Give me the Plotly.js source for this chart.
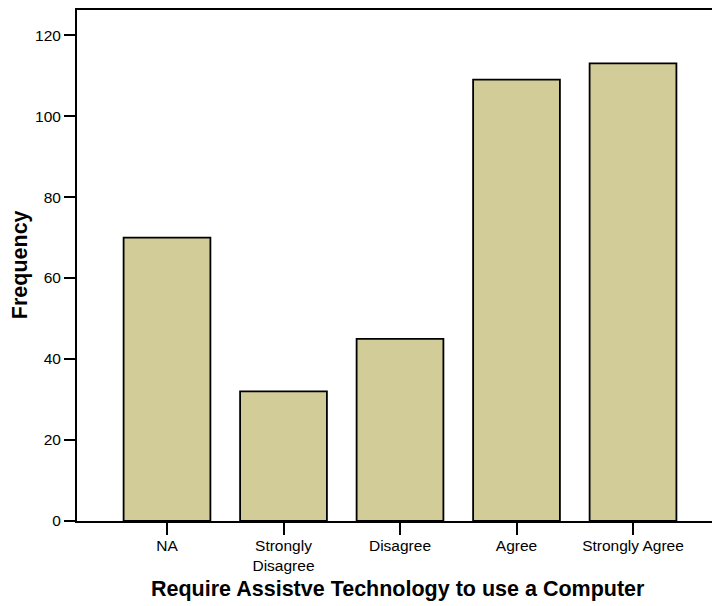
<!DOCTYPE html>
<html>
<head>
<meta charset="utf-8">
<script src="https://cdn.plot.ly/plotly-3.0.1.min.js"></script>
<style>html,body{margin:0;padding:0;background:#fff;}#chart{width:712px;height:606px;}</style>
</head>
<body>
<div id="chart"></div>
<script>
const categories = ["NA", "Strongly<br>Disagree", "Disagree", "Agree", "Strongly Agree"];
const frequencies = [70, 32, 45, 109, 113];
const yTicks = [0, 20, 40, 60, 80, 100, 120];
const xTitle = "Require Assistve Technology to use a Computer";
const yTitle = "Frequency";

const font = "Arial, 'Liberation Sans', sans-serif";

const trace = {
  type: "bar",
  x: categories.map((c, i) => i),
  y: frequencies,
  width: 0.745,
  marker: { color: "#d2cd98", line: { color: "#000", width: 1.8 } },
  hoverinfo: "skip"
};

const layout = {
  width: 712, height: 606,
  margin: { l: 77, r: 0, t: 10, b: 85.3 },
  paper_bgcolor: "#fff", plot_bgcolor: "#fff",
  showlegend: false,
  font: { family: font, color: "#000" },
  xaxis: {
    range: [-0.7725, 4.678],
    tickmode: "array",
    tickvals: categories.map((c, i) => i),
    ticktext: categories,
    showgrid: false, zeroline: false,
    showline: true, linecolor: "#000", linewidth: 2, mirror: true,
    ticks: "outside", ticklen: 12, tickwidth: 2, tickcolor: "#000",
    ticklabelstandoff: -3,
    tickfont: { family: font, size: 15.5, color: "#000" },
    fixedrange: true
  },
  yaxis: {
    range: [0, 126.2],
    tickmode: "array",
    tickvals: yTicks,
    ticktext: yTicks.map(String),
    showgrid: false, zeroline: false,
    showline: true, linecolor: "#000", linewidth: 2,
    ticks: "outside", ticklen: 11, tickwidth: 2, tickcolor: "#000",
    tickfont: { family: font, size: 15.5, color: "#000" },
    fixedrange: true
  },
  annotations: [
    {
      text: "<b>" + xTitle + "</b>",
      xref: "paper", yref: "paper",
      x: 0.5055, y: -0.1337, xanchor: "center", yanchor: "middle",
      showarrow: false,
      font: { family: font, size: 21.5, color: "#000" }
    },
    {
      text: "<b>" + yTitle + "</b>",
      xref: "paper", yref: "paper",
      x: -0.0898, y: 0.5026, xanchor: "center", yanchor: "middle",
      textangle: -90,
      showarrow: false,
      font: { family: font, size: 21.5, color: "#000" }
    }
  ]
};

Plotly.newPlot("chart", [trace], layout, { displayModeBar: false, staticPlot: true });
</script>
</body>
</html>
